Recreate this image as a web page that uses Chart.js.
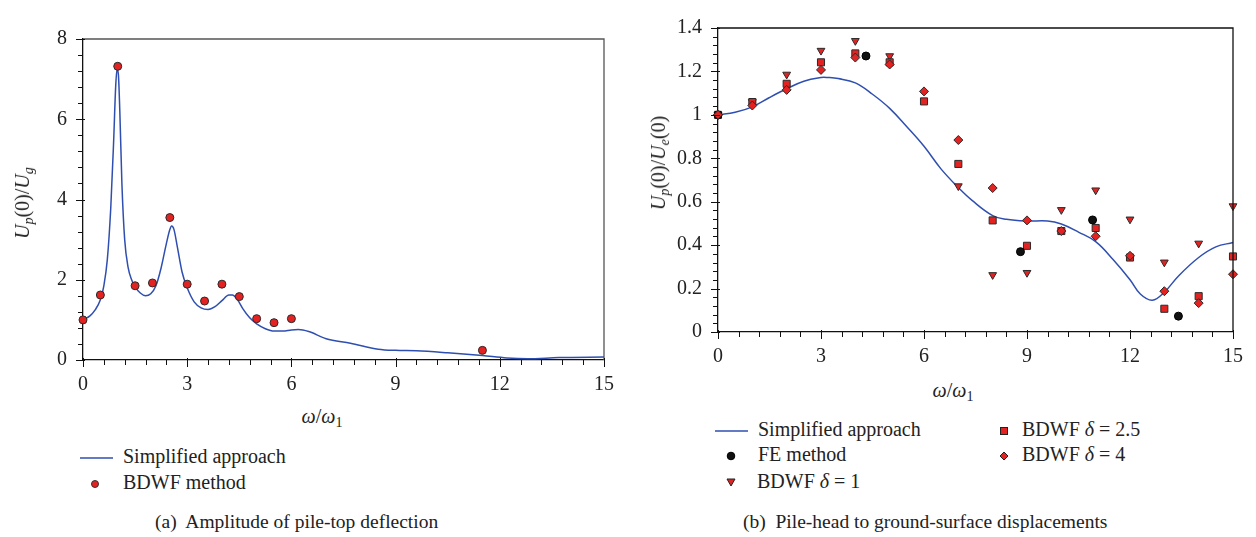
<!DOCTYPE html>
<html>
<head>
<meta charset="utf-8">
<script src="https://cdn.jsdelivr.net/npm/chart.js@4.4.1/dist/chart.umd.min.js"></script>
<style>
  body { margin: 0; background: #fff; width: 1256px; height: 537px; position: relative; overflow: hidden;
         font-family: "Liberation Serif", "Times New Roman", "DejaVu Serif", serif; color: #222; }
  .cv { position: absolute; top: 0; }
  .txt { position: absolute; white-space: nowrap; font-size: 20px; line-height: 1; }
  .ytitle { transform: translate(-50%, -50%) rotate(-90deg); }
  .xtitle { transform: translate(-50%, -50%); }
  .leg { position: absolute; font-size: 20px; line-height: 1; white-space: nowrap; transform: translateY(-50%); }
  .cap { position: absolute; font-size: 19.5px; white-space: nowrap; transform: translateY(-50%); }
  sub { font-size: 70%; vertical-align: -0.3em; line-height: 0; }
</style>
</head>
<body>
<canvas id="chartA" class="cv" style="left:0"></canvas>
<canvas id="chartB" class="cv" style="left:630px"></canvas>

<div class="txt ytitle" style="left:22px; top:203px"><i>U</i><sub><i>p</i></sub>(0)/<i>U</i><sub><i>g</i></sub></div>
<div class="txt xtitle" style="left:322px; top:416px"><i>ω</i>/<i>ω</i><sub>1</sub></div>
<div class="leg" style="left:80px; top:456px"><svg width="34" height="4" style="vertical-align:middle"><line x1="0" y1="2" x2="33" y2="2" stroke="#2f4fb0" stroke-width="1.5"/></svg><span style="margin-left:9px">Simplified approach</span></div>
<div class="leg" style="left:80px; top:482px"><svg width="34" height="10" style="vertical-align:middle"><circle cx="15" cy="5" r="3.5" fill="#e32222" stroke="#333" stroke-width="1"/></svg><span style="margin-left:9px">BDWF method</span></div>
<div class="cap" style="left:155px; top:522px">(a)&nbsp; Amplitude of pile-top deflection</div>

<div class="txt ytitle" style="left:658px; top:163px"><i>U</i><sub><i>p</i></sub>(0)/<i>U</i><sub><i>e</i></sub>(0)</div>
<div class="txt xtitle" style="left:953px; top:390px"><i>ω</i>/<i>ω</i><sub>1</sub></div>
<div class="leg" style="left:715px; top:429px"><svg width="34" height="4" style="vertical-align:middle"><line x1="0" y1="2" x2="33" y2="2" stroke="#2f4fb0" stroke-width="1.5"/></svg><span style="margin-left:9px">Simplified approach</span></div>
<div class="leg" style="left:715px; top:454px"><svg width="34" height="10" style="vertical-align:middle"><circle cx="16" cy="5" r="3.8" fill="#111" stroke="#000" stroke-width="1"/></svg><span style="margin-left:9px">FE method</span></div>
<div class="leg" style="left:715px; top:481px"><svg width="34" height="10" style="vertical-align:middle"><polygon points="12,1 20,1 16,8" fill="#e32222" stroke="#222" stroke-width="1"/></svg><span style="margin-left:8px">BDWF <i>δ</i> = 1</span></div>
<div class="leg" style="left:998px; top:429px"><svg width="14" height="10" style="vertical-align:middle"><rect x="2.5" y="1.5" width="7" height="7" fill="#e32222" stroke="#222" stroke-width="1"/></svg><span style="margin-left:10px">BDWF <i>δ</i> = 2.5</span></div>
<div class="leg" style="left:998px; top:454px"><svg width="14" height="10" style="vertical-align:middle"><polygon points="6,1 10,5 6,9 2,5" fill="#e32222" stroke="#222" stroke-width="1"/></svg><span style="margin-left:10px">BDWF <i>δ</i> = 4</span></div>
<div class="cap" style="left:743px; top:522px">(b)&nbsp; Pile-head to ground-surface displacements</div>

<script>
// ---- (a) amplitude of pile-top deflection ----
const curveAx = [0, 0.2, 0.35, 0.5, 0.6, 0.7, 0.8, 0.88, 0.94, 0.98, 1.02, 1.06, 1.12, 1.2, 1.3, 1.4, 1.5, 1.65, 1.8, 1.95,
                 2.1, 2.25, 2.4, 2.5, 2.55, 2.62, 2.72, 2.85, 3.0, 3.2, 3.4, 3.6, 3.8, 4.0, 4.2, 4.3, 4.45, 4.6, 4.8, 5.0,
                 5.25, 5.5, 5.75, 6.0, 6.2, 6.5, 7.0, 7.7, 8.5, 9.0, 9.6, 10.5, 11.5, 12.2, 12.8, 13.7, 15];
const curveAy = [1.0, 1.1, 1.25, 1.5, 1.85, 2.5, 3.8, 5.4, 6.8, 7.25, 7.1, 6.2, 4.4, 3.0, 2.3, 2.0, 1.82, 1.67, 1.6, 1.65,
                 1.85, 2.3, 2.9, 3.25, 3.34, 3.25, 2.8, 2.2, 1.8, 1.45, 1.3, 1.26, 1.33, 1.48, 1.62, 1.62, 1.5, 1.28, 1.05, 0.9,
                 0.78, 0.72, 0.72, 0.75, 0.76, 0.71, 0.53, 0.42, 0.27, 0.24, 0.23, 0.18, 0.11, 0.05, 0.03, 0.06, 0.075];
const bdwfX = [0, 0.5, 1.0, 1.5, 2.0, 2.5, 3.0, 3.5, 4.0, 4.5, 5.0, 5.5, 6.0, 11.5];
const bdwfY = [1.0, 1.62, 7.32, 1.85, 1.92, 3.55, 1.89, 1.47, 1.89, 1.58, 1.03, 0.93, 1.03, 0.24];

// ---- (b) pile-head to ground-surface displacements ----
const curveBx = [0, 0.5, 1, 1.5, 2, 2.5, 3, 3.2, 3.5, 4, 4.5, 5, 5.5, 6, 6.5, 7, 7.4, 8, 8.4, 9, 9.6, 10, 10.5, 11,
                 11.5, 12, 12.3, 12.65, 13, 13.4, 14, 14.5, 15];
const curveBy = [1.0, 1.012, 1.037, 1.08, 1.12, 1.155, 1.172, 1.172, 1.167, 1.147, 1.095, 1.03, 0.945, 0.855, 0.75, 0.665,
                 0.606, 0.536, 0.519, 0.511, 0.511, 0.497, 0.46, 0.416, 0.335, 0.241, 0.175, 0.146, 0.183, 0.256, 0.343, 0.392, 0.412];
const deltaX = [0, 1, 2, 3, 4, 5, 6, 7, 8, 9, 10, 11, 12, 13, 14, 15];
const delta1 = [1.0, 1.06, 1.186, 1.296, 1.341, 1.271, null, 0.672, 0.263, 0.273, 0.5625, 0.653, 0.519, 0.321, 0.408, 0.580];
const delta25 = [1.0, 1.059, 1.143, 1.242, 1.283, 1.242, 1.062, 0.774, 0.514, 0.397, 0.465, 0.479, 0.343, 0.107, 0.165, 0.348];
const delta4 = [1.0, 1.043, 1.115, 1.207, 1.264, 1.232, 1.108, 0.884, 0.663, 0.514, 0.465, 0.441, 0.351, 0.188, 0.133, 0.266];
const feX = [0, 4.31, 8.81, 10.91, 13.41];
const feY = [1.0, 1.271, 0.370, 0.516, 0.073];

const BLUE = "#2f4fb0";
const RED = "#e32222";
const EDGE = "#2a2a2a";
const FONT = {family: "'Liberation Serif', 'Times New Roman', 'DejaVu Serif', serif", size: 20};

const pts = (xs, ys) => xs.map((x, i) => ({x: x, y: ys[i]}));

// frame on top/right plus major and minor tick marks
const frameTicks = {
    id: "frameTicks",
    afterDraw(chart, args, opts) {
        const {ctx, chartArea: a, scales: {x, y}} = chart;
        ctx.save();
        ctx.strokeStyle = opts.frameColor;
        ctx.lineWidth = 1.3;
        ctx.beginPath();
        ctx.moveTo(a.left, a.top);
        ctx.lineTo(a.right, a.top);
        ctx.lineTo(a.right, a.bottom);
        ctx.stroke();

        ctx.strokeStyle = "#111";
        ctx.lineWidth = 1;
        const nx = Math.round((x.max - x.min) / opts.xMinor);
        for (let i = 0; i <= nx; i++) {
            const v = x.min + i * opts.xMinor;
            const px = Math.round(x.getPixelForValue(v)) + 0.5;
            const major = Math.abs(v / opts.xMajor - Math.round(v / opts.xMajor)) < 1e-6;
            ctx.beginPath();
            ctx.moveTo(px, a.bottom - (major ? 2 : 0));
            ctx.lineTo(px, a.bottom + (major ? 7 : 5));
            ctx.stroke();
        }
        const ny = Math.round((y.max - y.min) / opts.yMinor);
        for (let i = 0; i <= ny; i++) {
            const v = y.min + i * opts.yMinor;
            const py = Math.round(y.getPixelForValue(v)) + 0.5;
            const major = Math.abs(v / opts.yMajor - Math.round(v / opts.yMajor)) < 1e-6;
            ctx.beginPath();
            ctx.moveTo(a.left + (major ? 2 : 0), py);
            ctx.lineTo(a.left - (major ? 7 : 5), py);
            ctx.stroke();
        }
        ctx.restore();
    }
};

function axes(yMax, yStep, yWidth, xHeight, xPad) {
    return {
        x: {
            type: "linear", min: 0, max: 15,
            grid: {display: false, drawTicks: false},
            border: {display: true, color: "#111", width: 1.3},
            ticks: {stepSize: 3, color: "#222", font: FONT, padding: xPad, maxRotation: 0},
            afterFit: s => { s.height = xHeight; }
        },
        y: {
            type: "linear", min: 0, max: yMax,
            grid: {display: false, drawTicks: false},
            border: {display: true, color: "#111", width: 1.3},
            ticks: {stepSize: yStep, color: "#222", font: FONT, padding: 16,
                callback: v => String(Math.round(v * 100) / 100)},
            afterFit: s => { s.width = yWidth; }
        }
    };
}

function makeChart(id, w, h, datasets, scales, padding, tickOpts) {
    const cv = document.getElementById(id);
    cv.width = w; cv.height = h;
    cv.style.width = w + "px"; cv.style.height = h + "px";
    return new Chart(cv.getContext("2d"), {
        type: "scatter",
        data: {datasets: datasets},
        options: {
            responsive: false,
            animation: false,
            layout: {padding: padding},
            plugins: {legend: {display: false}, tooltip: {enabled: false}, frameTicks: tickOpts},
            scales: scales
        },
        plugins: [frameTicks]
    });
}

makeChart("chartA", 630, 400, [
    {label: "Simplified approach", data: pts(curveAx, curveAy), showLine: true, borderColor: BLUE, borderWidth: 1.5,
        pointRadius: 0, cubicInterpolationMode: "monotone", order: 2, clip: false},
    {label: "BDWF method", data: pts(bdwfX, bdwfY), pointStyle: "circle", pointRadius: 4,
        backgroundColor: RED, borderColor: EDGE, borderWidth: 1, order: 1, clip: false}
], axes(8, 2, 83, 40, 13), {left: 0, top: 39, right: 26, bottom: 0},
    {frameColor: "#555", xMajor: 3, xMinor: 0.6, yMajor: 2, yMinor: 0.4});

makeChart("chartB", 626, 372, [
    {label: "Simplified approach", data: pts(curveBx, curveBy), showLine: true, borderColor: BLUE, borderWidth: 1.5,
        pointRadius: 0, tension: 0.4, order: 5, clip: false},
    {label: "BDWF δ = 1", data: pts(deltaX, delta1), pointStyle: "triangle", rotation: 180, pointRadius: 4.5,
        backgroundColor: RED, borderColor: EDGE, borderWidth: 1, order: 4, clip: false},
    {label: "BDWF δ = 2.5", data: pts(deltaX, delta25), pointStyle: "rect", pointRadius: 5,
        backgroundColor: RED, borderColor: EDGE, borderWidth: 1, order: 3, clip: false},
    {label: "FE method", data: pts(feX, feY), pointStyle: "circle", pointRadius: 4,
        backgroundColor: "#111", borderColor: "#000", borderWidth: 1, order: 2, clip: false},
    {label: "BDWF δ = 4", data: pts(deltaX, delta4), pointStyle: "rectRot", pointRadius: 4.5,
        backgroundColor: RED, borderColor: EDGE, borderWidth: 1, order: 1, clip: false}
], axes(1.4, 0.2, 88, 40, 13), {left: 0, top: 12, right: 20, bottom: 0},
    {frameColor: "#111", xMajor: 3, xMinor: 0.6, yMajor: 0.2, yMinor: 0.04});
</script>
</body>
</html>
